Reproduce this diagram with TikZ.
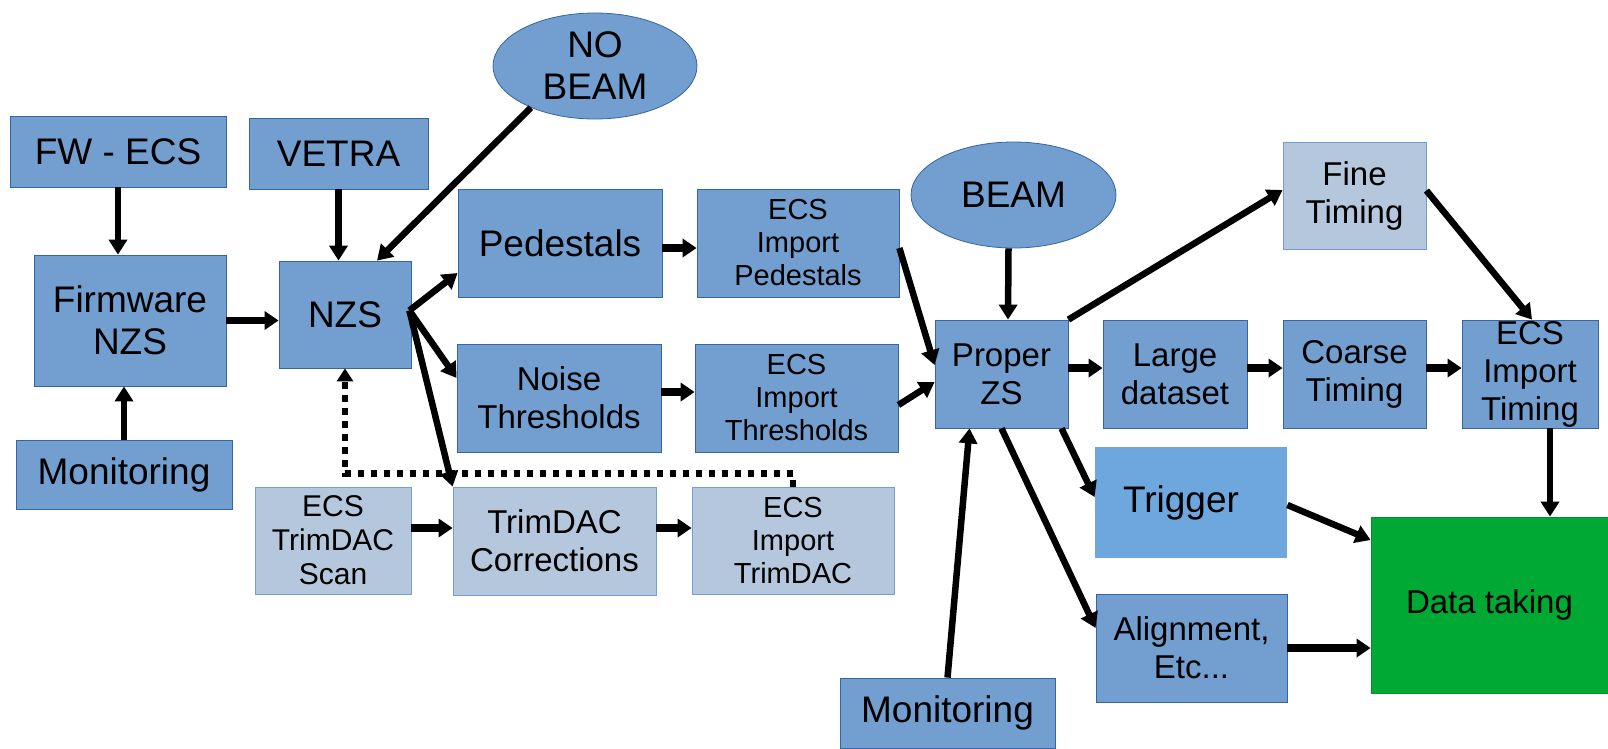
\documentclass[tikz,border=0pt]{standalone}
\usepackage{fontspec}
\setmainfont{Liberation Sans}
\usetikzlibrary{arrows.meta,calc,shapes.geometric}
\definecolor{bmid}{HTML}{729FCF}
\definecolor{bdark}{HTML}{3465A4}
\definecolor{blight}{HTML}{B4C7DC}
\definecolor{btrig}{HTML}{6EA7DD}
\definecolor{dgreen}{HTML}{00A933}
\begin{document}
\begin{tikzpicture}[x=1pt,y=-1pt,
  box/.style={draw=bdark, line width=0.8pt, fill=bmid, inner sep=0pt, align=center, text=black},
  lbox/.style={box, fill=blight, draw=bmid},
  fL/.style={font=\fontsize{37}{42}\selectfont},
  fM/.style={font=\fontsize{33}{38}\selectfont},
  fS/.style={font=\fontsize{29}{33}\selectfont},
  fT/.style={font=\fontsize{30}{34}\selectfont},
  arr/.style={line width=6.5pt, -{Triangle[length=15pt,width=18pt]}},
  harr/.style={line width=7.5pt, -{Triangle[length=14pt,width=18pt]}},
  dotarr/.style={line width=6.5pt, dash pattern=on 6.5pt off 6.5pt, -{Triangle[length=13pt,width=16pt]}}
]
\useasboundingbox (0,0) rectangle (1608,748);
\fill[white] (0,0) rectangle (1608,748);

% left part
\node[box,fL,minimum width=216pt,minimum height=71pt] (fwecs) at (118,151.5) {FW - ECS};
\node[box,fL,minimum width=179pt,minimum height=71pt] (vetra) at (338.5,153.5) {VETRA};
\node[box,fL,minimum width=192pt,minimum height=131pt] (fwnzs) at (130,320.5) {Firmware\\NZS};
\node[box,fL,minimum width=132pt,minimum height=107pt] (nzs) at (345,314.5) {NZS};
\node[box,fL,minimum width=216pt,minimum height=69pt] (monl) at (124,474.5) {Monitoring};
\node[ellipse,box,fL,minimum width=204pt,minimum height=106pt] (nobeam) at (595,66) {NO\\BEAM};

% middle
\node[box,fL,minimum width=204pt,minimum height=108pt] (ped) at (560,243) {Pedestals};
\node[box,fS,minimum width=202pt,minimum height=108pt] (ecsped) at (798,243) {ECS\\Import\\Pedestals};
\node[box,fM,minimum width=204pt,minimum height=108pt] (noise) at (559,398) {Noise\\Thresholds};
\node[box,fS,minimum width=203pt,minimum height=108pt] (ecsthr) at (796.5,398) {ECS\\Import\\Thresholds};
\node[lbox,fT,minimum width=156pt,minimum height=107pt] (scan) at (333,540.5) {ECS\\TrimDAC\\Scan};
\node[lbox,fM,minimum width=203pt,minimum height=108pt] (corr) at (554.5,541) {TrimDAC\\Corrections};
\node[lbox,fS,minimum width=202pt,minimum height=107pt] (imptrim) at (793,540.5) {ECS\\Import\\TrimDAC};

% right
\node[ellipse,box,fL,minimum width=205pt,minimum height=106pt] (beam) at (1013.5,195) {BEAM};
\node[box,fM,minimum width=133pt,minimum height=108pt] (proper) at (1001.5,374) {Proper\\ZS};
\node[box,fM,minimum width=144pt,minimum height=108pt] (large) at (1175,374) {Large\\dataset};
\node[box,fM,minimum width=143pt,minimum height=108pt] (coarse) at (1354.5,374) {Coarse\\Timing};
\node[box,fM,minimum width=136pt,minimum height=108pt] (ecstim) at (1530,374) {ECS\\Import\\Timing};
\node[lbox,fM,minimum width=143pt,minimum height=107pt] (fine) at (1354.5,195.5) {Fine\\Timing};
\node[box,fill=btrig,draw=none,fL,minimum width=192pt,minimum height=111pt] (trig) at (1191,502.5) {\hspace*{-20pt}Trigger};
\node[box,fM,minimum width=191pt,minimum height=108pt] (align) at (1191.5,648) {Alignment,\\Etc...};
\node[box,fill=dgreen,draw=dgreen!85!black,fM,minimum width=237pt,minimum height=176pt] (data) at (1489.5,605) {Data taking};
\node[box,fL,minimum width=215pt,minimum height=70pt] (monb) at (947.5,713) {Monitoring};

% connectors, left
\draw[arr] (fwecs.south) -- (fwecs.south |- fwnzs.north);
\draw[arr] (monl.north) -- (monl.north |- fwnzs.south);
\draw[arr] (vetra.south) -- (vetra.south |- nzs.north);
\draw[arr] (nobeam.213) -- ($(nzs.north)+(32,0)$);
\draw[harr] (fwnzs.east) -- (fwnzs.east -| nzs.west);
\coordinate (nz) at ($(nzs.east)+(-2,-4)$);
\draw[arr] (nz) -- ($(ped.west)+(0,30)$);
\draw[arr] (nz) -- ($(noise.west)+(0,-20)$);
\draw[arr] (nz) -- (corr.north west);
\draw[harr] ($(ped.east)+(0,5)$) -- ($(ecsped.west)+(0,5)$);
\draw[harr] ($(noise.east)+(0,-6)$) -- ($(ecsthr.west)+(0,-6)$);
\draw[arr] ($(ecsped.east)+(0,5)$) -- ($(proper.west)+(0,-9)$);
\draw[arr] ($(ecsthr.east)+(0,7)$) -- ($(proper.west)+(0,8)$);
\draw[harr] ($(scan.east)+(0,-12.5)$) -- ($(corr.west)+(0,-13)$);
\draw[harr] ($(corr.east)+(0,-13)$) -- ($(imptrim.west)+(0,-12.5)$);
\draw[dotarr] (imptrim.north) -- ++(0,-13) -| (nzs.south);

% connectors, right
\draw[arr] ($(beam.south)+(-5,0)$) -- ($(proper.north)+(6.5,0)$);
\draw[arr] (proper.north east) -- ($(fine.west)+(0,-5.5)$);
\draw[harr] ($(proper.east)+(0,-6)$) -- ($(large.west)+(0,-6)$);
\draw[harr] ($(large.east)+(0,-6)$) -- ($(coarse.west)+(0,-6)$);
\draw[harr] ($(coarse.east)+(0,-6)$) -- ($(ecstim.west)+(0,-6)$);
\draw[arr] ($(fine.east)+(0,-5)$) -- ($(ecstim.north)+(2,0)$);
\draw[arr] ($(ecstim.south)+(20,0)$) -- ($(data.north)+(60.5,0)$);
\draw[arr] ($(proper.south)+(60,0)$) -- ($(trig.west)+(0,-5.5)$);
\draw[arr] (proper.south) -- ($(align.west)+(0,-20)$);
\draw[arr] (monb.north) -- ($(proper.south)+(-32,0)$);
\draw[arr] ($(trig.east)+(0,2.5)$) -- ($(data.west)+(0,-65)$);
\draw[harr] (align.east) -- (align.east -| data.west);
\end{tikzpicture}
\end{document}
